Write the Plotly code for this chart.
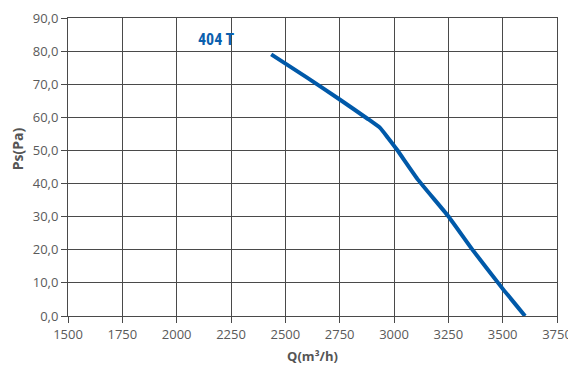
import plotly.graph_objects as go

q_values = [2435, 2600, 2752, 2880, 2936, 2970, 3014, 3111, 3249, 3359, 3497, 3603]
ps_values = [79.0, 72.0, 65.3, 59.5, 56.8, 54.0, 50.2, 41.1, 30.2, 20.2, 8.5, 0.0]
x_ticks = [1500, 1750, 2000, 2250, 2500, 2750, 3000, 3250, 3500, 3750]
y_ticks = [0, 10, 20, 30, 40, 50, 60, 70, 80, 90]
series_label = "404 T"

fig = go.Figure()
fig.add_trace(go.Scatter(
    x=q_values, y=ps_values, mode="lines",
    line=dict(color="#0059a9", width=4, shape="spline", smoothing=0.4),
    showlegend=False, hoverinfo="skip",
))
fig.add_annotation(
    x=2181, y=83.4, text="<b>" + series_label + "</b>", showarrow=False,
    xanchor="center", yanchor="middle",
    font=dict(family="Roboto Condensed, Roboto", size=16, color="#0b5fae"),
)
# y-axis title as annotation (positioned slightly above center, as in the reference)
fig.add_annotation(
    xref="paper", yref="paper", x=-0.104, y=0.56, text="<b>Ps(Pa)</b>",
    showarrow=False, textangle=-90, xanchor="center", yanchor="middle",
    font=dict(family="Open Sans", size=14, color="#555555"),
)

axis_common = dict(
    showgrid=True, gridcolor="#4a4a4a", gridwidth=1,
    showline=True, linecolor="#4a4a4a", linewidth=1, mirror=True,
    ticks="outside", ticklen=6, tickcolor="#4a4a4a",
    tickfont=dict(family="Open Sans", size=13, color="#5a5a5a"),
    zeroline=False, automargin=False,
)
fig.update_xaxes(
    range=[1500, 3750], tickvals=x_ticks,
    title=dict(text="<b>Q(m³/h)</b>", font=dict(family="Open Sans", size=13, color="#555555"), standoff=10),
    **axis_common,
)
fig.update_yaxes(
    range=[0, 90], tickvals=y_ticks, tickformat=".1f",
    **axis_common,
)
# page body has an 8px margin, so the figure is shifted by 8px; compensate here
fig.update_layout(
    width=568, height=359,
    margin=dict(l=60, r=19, t=10, b=51),
    paper_bgcolor="white", plot_bgcolor="white",
    separators=",.",
)
fig.write_html("out.html")
